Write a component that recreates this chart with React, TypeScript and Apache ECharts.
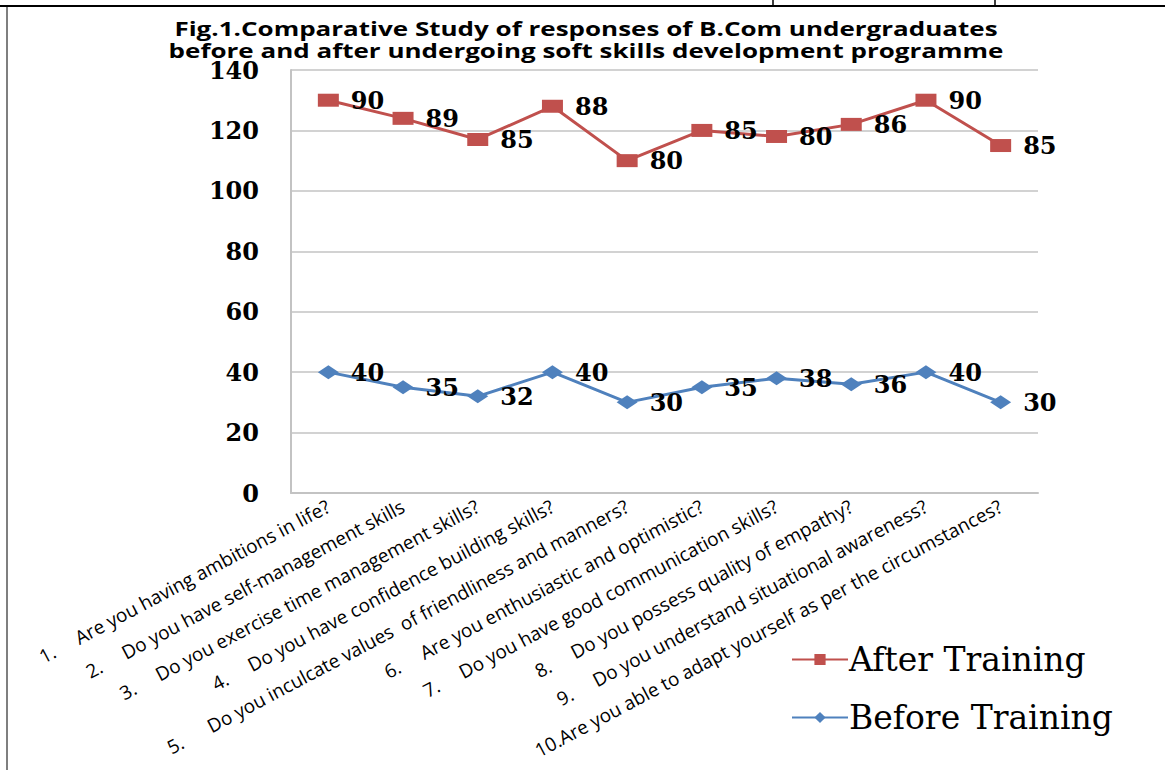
import React, { useEffect, useRef } from "react";
import * as echarts from "echarts";

// Survey questions (category axis)
const questions: string[] = [
  "1.     Are you having ambitions in life?",
  "2.     Do you have self-management skills",
  "3.     Do you exercise time management skills?",
  "4.     Do you have confidence building skills?",
  "5.      Do you inculcate values  of friendliness and manners?",
  "6.     Are you enthusiastic and optimistic?",
  "7.     Do you have good communication skills?",
  "8.     Do you possess quality of empathy?",
  "9.     Do you understand situational awareness?",
  "10.Are you able to adapt yourself as per the circumstances?",
];

// Responses before the programme
const beforeTraining: number[] = [40, 35, 32, 40, 30, 35, 38, 36, 40, 30];
// Responses after the programme (stacked on top of "before")
const afterTraining: number[] = [90, 89, 85, 88, 80, 85, 80, 86, 90, 85];

const yTicks = { min: 0, max: 140, interval: 20 };

const titleLines: string[] = [
  "Fig.1.Comparative Study of responses of B.Com undergraduates",
  "before and after undergoing soft skills development programme",
];

const RED = "#C0504D";
const BLUE = "#4F81BD";
const GRID = "#c3c3c3";

export default function App() {
  const ref = useRef<HTMLDivElement>(null);

  useEffect(() => {
    if (!ref.current) return;
    const chart = echarts.init(ref.current, undefined, { renderer: "svg" });

    const valueLabel = {
      show: true,
      position: "right" as const,
      distance: 12,
      color: "#000",
      fontFamily: "DejaVu Serif",
      fontWeight: "bold" as const,
      fontSize: 24,
    };

    // Title drawn as two wide bold lines centred over the plot
    const titleGraphics = titleLines.map((line, i) => ({
      type: "text",
      x: 586,
      y: 28 + i * 22,
      scaleX: 1.3,
      style: {
        text: line,
        fill: "#000",
        fontFamily: "Open Sans",
        fontWeight: "bold",
        fontSize: 20,
        align: "center",
        verticalAlign: "middle",
        textAlign: "center",
        textVerticalAlign: "middle",
      },
    }));

    chart.setOption({
      animation: false,
      backgroundColor: "#fff",
      legend: {
        data: ["After Training", "Before Training"],
        orient: "vertical",
        left: 786,
        top: 638,
        itemWidth: 56,
        itemHeight: 14,
        itemGap: 25,
        textStyle: {
          fontFamily: "DejaVu Serif",
          fontSize: 33,
          color: "#000",
          padding: [0, 0, 0, -4],
        },
      },
      grid: {
        left: 291,
        right: 127,
        top: 70,
        bottom: 277,
        containLabel: false,
      },
      xAxis: {
        type: "category",
        data: questions,
        boundaryGap: true,
        axisLine: { show: true, lineStyle: { color: GRID, width: 2 } },
        axisTick: { show: false },
        axisLabel: {
          interval: 0,
          rotate: 28,
          margin: 12,
          color: "#000",
          fontFamily: "Open Sans",
          fontSize: 19,
        },
      },
      yAxis: {
        type: "value",
        min: yTicks.min,
        max: yTicks.max,
        interval: yTicks.interval,
        axisLine: { show: true, lineStyle: { color: GRID, width: 2 } },
        axisTick: { show: false },
        splitLine: { show: true, lineStyle: { color: GRID, width: 1.5 } },
        axisLabel: {
          margin: 32,
          color: "#000",
          fontFamily: "DejaVu Serif",
          fontWeight: "bold",
          fontSize: 24,
        },
      },
      series: [
        {
          name: "Before Training",
          type: "line",
          stack: "total",
          data: beforeTraining,
          symbol: "diamond",
          symbolSize: [21, 14],
          itemStyle: { color: BLUE },
          lineStyle: { color: BLUE, width: 3 },
          label: valueLabel,
        },
        {
          name: "After Training",
          type: "line",
          stack: "total",
          data: afterTraining,
          symbol: "rect",
          symbolSize: [21, 13],
          itemStyle: { color: RED },
          lineStyle: { color: RED, width: 3 },
          label: valueLabel,
        },
      ],
      graphic: [
        ...titleGraphics,
        {
          type: "line",
          shape: { x1: 0, y1: 6, x2: 1165, y2: 6 },
          style: { stroke: "#000", lineWidth: 2 },
        },
        {
          type: "line",
          shape: { x1: 773, y1: 0, x2: 773, y2: 6 },
          style: { stroke: "#000", lineWidth: 1.5 },
        },
        {
          type: "line",
          shape: { x1: 995, y1: 0, x2: 995, y2: 6 },
          style: { stroke: "#000", lineWidth: 1.5 },
        },
        {
          type: "line",
          shape: { x1: 7, y1: 7, x2: 7, y2: 770 },
          style: { stroke: "#7f7f7f", lineWidth: 2 },
        },
      ],
    });

    return () => chart.dispose();
  }, []);

  return (
    <div
      ref={ref}
      style={{ position: "fixed", left: 0, top: 0, width: 1165, height: 770 }}
    />
  );
}
